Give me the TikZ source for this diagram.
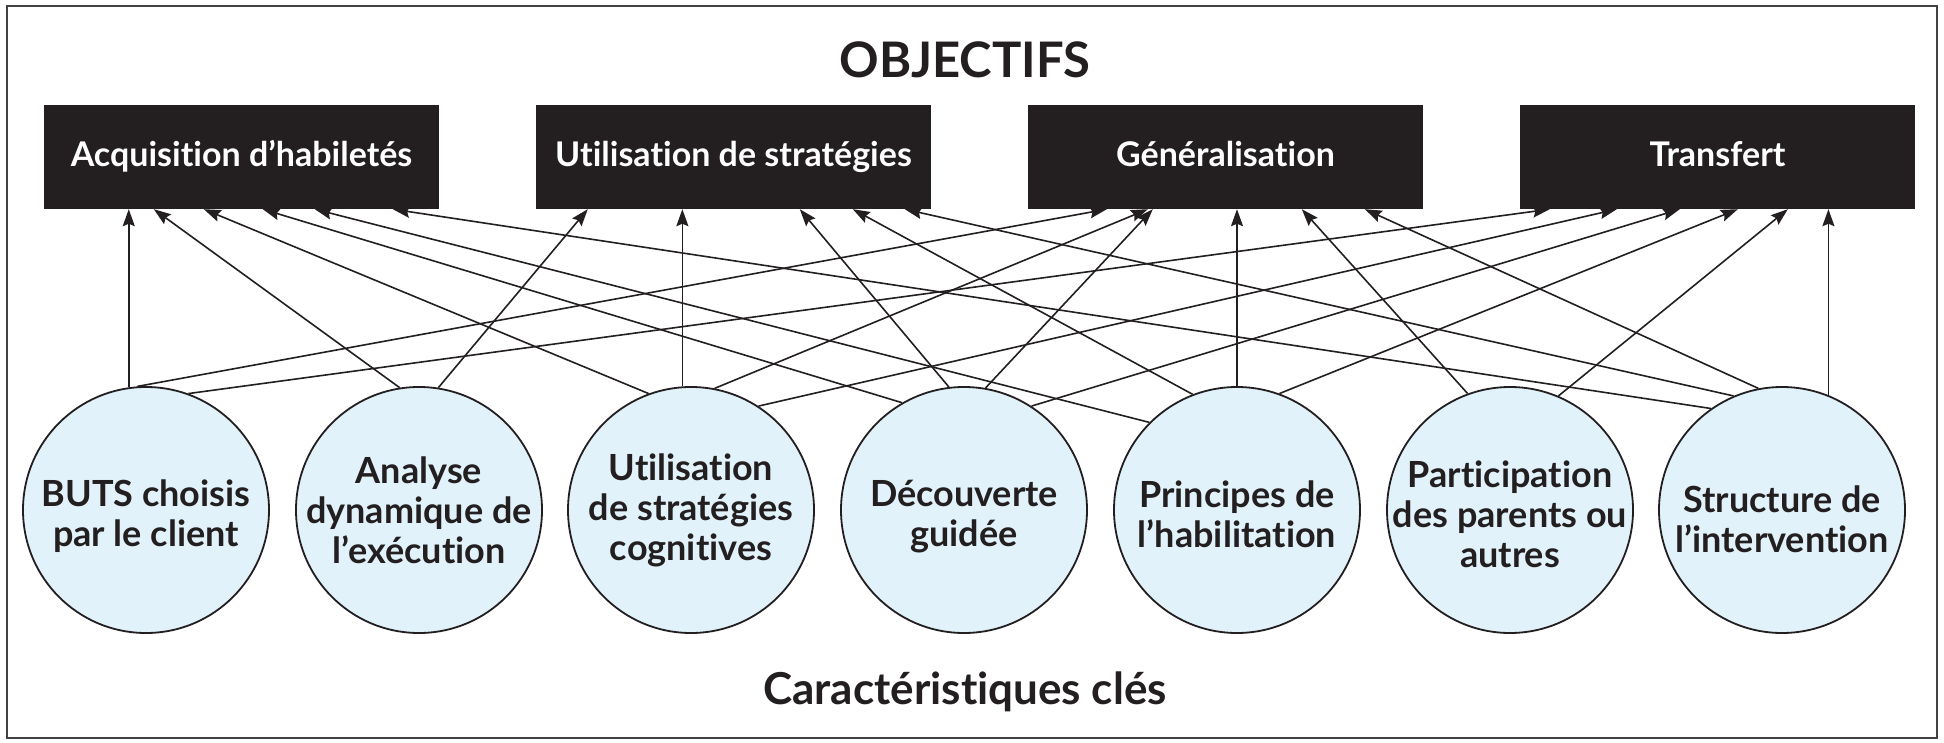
\documentclass[tikz,border=0pt]{standalone}
\usepackage{fontspec}
\setmainfont{Lato}[Ligatures=NoCommon]
\usetikzlibrary{arrows.meta}
\definecolor{ink}{HTML}{231F20}
\definecolor{bluefill}{HTML}{E1F2FA}
\newcommand{\cartext}[2]{\raisebox{#1}[0pt][0pt]{\begin{tabular}{@{}c@{}}#2\end{tabular}}}
\begin{document}
\begin{tikzpicture}[x=1bp,y=-1bp,
  objbox/.style={rectangle, fill=ink, text=white, minimum width=395bp, minimum height=104bp,
    inner sep=0pt, font=\bfseries\fontsize{34bp}{40bp}\selectfont, text height=18bp, text depth=0pt},
  carac/.style={circle, draw=ink, line width=1.8bp, fill=bluefill, minimum size=246bp,
    inner sep=0pt, text=ink, font=\bfseries\fontsize{36bp}{40bp}\selectfont},
  conn/.style={draw=ink, line width=1.6bp, -{Stealth[length=17bp,width=12bp,inset=2.5bp]}},
  heading/.style={text=ink, inner sep=0pt},
]
\useasboundingbox (0,0) rectangle (1944,743);
\draw[line width=2bp, draw=ink!85] (7,6) rectangle (1937,738);

\node[heading, font=\bfseries\fontsize{49bp}{52bp}\selectfont] (titre) at (965,60) {OBJECTIFS};

\node[objbox] (o1) at (241.5,157) {Acquisition d’habiletés};
\node[objbox] (o2) at (733.5,157) {Utilisation de stratégies};
\node[objbox] (o3) at (1225.5,157) {Généralisation};
\node[objbox] (o4) at (1717.5,157) {Transfert};

\node[carac] (c1) at (146,510) {\cartext{-15bp}{BUTS choisis\\par le client}};
\node[carac] (c2) at (419,510) {\cartext{-12bp}{Analyse\\dynamique de\\l’exécution}};
\node[carac] (c3) at (691,510) {\cartext{-9bp}{Utilisation\\de stratégies\\cognitives}};
\node[carac] (c4) at (964,510) {\cartext{-15bp}{Découverte\\guidée}};
\node[carac] (c5) at (1237,510) {\cartext{-16bp}{Principes de\\l’habilitation}};
\node[carac] (c6) at (1510,510) {\cartext{-16bp}{Participation\\des parents ou\\autres}};
\node[carac] (c7) at (1782,510) {\cartext{-21bp}{Structure de\\l’intervention}};

\node[heading, anchor=base, font=\bfseries\fontsize{44bp}{48bp}\selectfont] (cles) at (965,704) {Caractéristiques clés};

% BUTS
\draw[conn] (c1.98) -- (c1.98 |- o1.south);
\draw[conn] (c1.94) -- ([xshift=79bp]o3.south west);
\draw[conn] (c1.70) -- ([xshift=30bp]o4.south west);
% Analyse
\draw[conn] (c2.99) -- ([xshift=110bp]o1.south west);
\draw[conn] (c2.81) -- ([xshift=52bp]o2.south west);
% Utilisation strategies cognitives
\draw[conn] (c3.94) -- (c3.94 |- o2.south);
\draw[conn] (c3.110) -- ([xshift=160bp]o1.south west);
\draw[conn] (c3.79) -- ([xshift=120bp]o3.south west);
\draw[conn] (c3.57) -- ([xshift=97bp]o4.south west);
% Decouverte
\draw[conn] (c4.97) -- ([xshift=264bp]o2.south west);
\draw[conn] (c4.120) -- ([xshift=219bp]o1.south west);
\draw[conn] (c4.80) -- ([xshift=125bp]o3.south west);
\draw[conn] (c4.57) -- ([xshift=160bp]o4.south west);
% Principes
\draw[conn] (c5.90) -- (c5.90 |- o3.south);
\draw[conn] (c5.111) -- ([xshift=317bp]o2.south west);
\draw[conn] (c5.135) -- ([xshift=271bp]o1.south west);
\draw[conn] (c5.70) -- ([xshift=218bp]o4.south west);
% Participation
\draw[conn] (c6.110) -- ([xshift=274bp]o3.south west);
\draw[conn] (c6.67) -- ([xshift=268bp]o4.south west);
% Structure
\draw[conn] (c7.68) -- (c7.68 |- o4.south);
\draw[conn] (c7.101) -- ([xshift=337bp]o3.south west);
\draw[conn] (c7.113) -- ([xshift=369bp]o2.south west);
\draw[conn] (c7.125) -- ([xshift=349bp]o1.south west);
\end{tikzpicture}
\end{document}
